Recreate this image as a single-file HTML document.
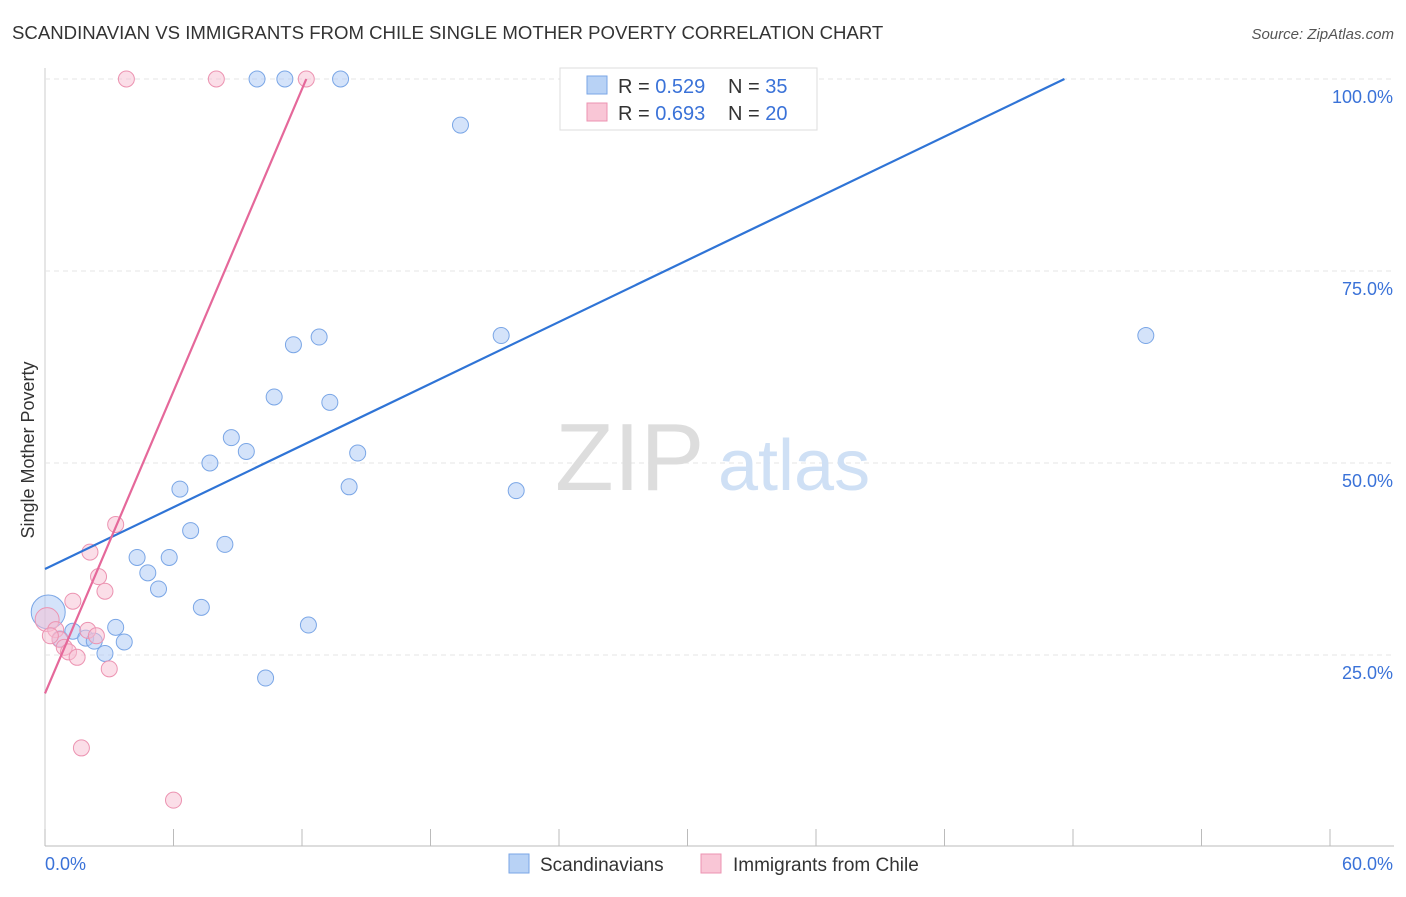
<!DOCTYPE html>
<html><head><meta charset="utf-8"><style>
body{margin:0;background:#fff;font-family:"Liberation Sans",sans-serif;}
svg text{font-family:"Liberation Sans",sans-serif;}
</style></head><body>
<svg id="chart" width="1406" height="892">
<text x="12" y="39" font-size="18.6" fill="#333">SCANDINAVIAN VS IMMIGRANTS FROM CHILE SINGLE MOTHER POVERTY CORRELATION CHART</text>
<text x="1394" y="39" font-size="15" fill="#555" font-style="italic" text-anchor="end">Source: ZipAtlas.com</text>
<text x="40" y="456" font-size="18" fill="#333" transform="rotate(-90 34 456)" text-anchor="middle">Single Mother Poverty</text>
<g id="grid"></g>
<text x="555" y="490" font-size="96" fill="#ddd" font-family="Liberation Serif">ZIP</text>
<text x="718" y="490" font-size="72" fill="#cfe0f5">atlas</text>
<g id="marks"></g>
<g>
<rect x="560" y="68" width="257" height="62" fill="#fff" stroke="#ddd"/>
<rect x="587" y="76" width="20" height="18" fill="#b8d2f5" stroke="#7aa6e6"/>
<rect x="587" y="103" width="20" height="18" fill="#f9c6d6" stroke="#ec93b1"/>
<text x="618" y="93" font-size="20" fill="#333">R = <tspan fill="#3a72d8">0.529</tspan><tspan x="728">N = </tspan><tspan fill="#3a72d8">35</tspan></text>
<text x="618" y="120" font-size="20" fill="#333">R = <tspan fill="#3a72d8">0.693</tspan><tspan x="728">N = </tspan><tspan fill="#3a72d8">20</tspan></text>
</g>
<g>
<rect x="509" y="854" width="20" height="19" fill="#b8d2f5" stroke="#7aa6e6"/>
<text x="540" y="871" font-size="19" fill="#333">Scandinavians</text>
<rect x="701" y="854" width="20" height="19" fill="#f9c6d6" stroke="#ec93b1"/>
<text x="733" y="871" font-size="19" fill="#333">Immigrants from Chile</text>
</g>
</svg>
<script>
const xTicks=[0,6,12,18,24,30,36,42,48,54,60];
const yTicks=[25,50,75,100];
const blueX=[9.9,11.2,13.8,25.8,19.4,11.6,12.8,21.3,51.4,10.7,13.3,8.7,9.4,14.6,7.7,6.3,14.2,22.0,6.8,8.4,4.3,5.8,4.8,5.3,7.3,3.3,1.3,1.9,2.3,3.7,2.8,12.3,10.3,0.15,0.7];
const blueY=[100,100,100,99.6,94,65.4,66.4,66.6,66.6,58.6,57.9,53.3,51.5,51.3,50,46.6,46.9,46.4,41.2,39.4,37.7,37.7,35.7,33.6,31.2,28.6,28.1,27.2,26.8,26.7,25.2,28.9,22.0,30.6,27.1];
const pinkX=[3.8,8.0,12.2,3.3,2.1,2.5,2.8,1.3,2.0,2.4,0.1,0.5,0.7,0.9,1.1,1.5,3.0,1.7,6.0,0.25];
const pinkY=[100,100,100,42,38.4,35.2,33.3,32.0,28.2,27.5,29.6,28.3,27.0,26.0,25.4,24.7,23.2,12.9,6.1,27.5];
const blueLine=[[0,36.2],[47.6,100]];
const pinkLine=[[0,20],[12.2,100]];
const xs=v=>45+v/60*1285, ys=v=>847-v*7.68;
const NS="http://www.w3.org/2000/svg";
const grid=document.getElementById('grid'), marks=document.getElementById('marks');
function mk(p,tag,a){const e=document.createElementNS(NS,tag);for(const k in a)e.setAttribute(k,a[k]);p.appendChild(e);return e;}
let ax=mk(grid,'line',{x1:45,y1:846,x2:1394,y2:846,stroke:'#bbb'});


let ay=mk(grid,'line',{x1:45,y1:68,x2:45,y2:846,stroke:'#ccc'});


xTicks.forEach((t,i)=>{const l=mk(grid,'line',{x1:xs(t),y1:829,x2:xs(t),y2:846,stroke:'#bbb'});

});
yTicks.forEach(t=>{const l=mk(grid,'line',{x1:45,y1:ys(t),x2:1394,y2:ys(t),stroke:'#e4e4e4','stroke-dasharray':'5,4'});


const tx=mk(grid,'text',{x:1393,y:ys(t)+24,'font-size':18,fill:'#3a72d8','text-anchor':'end'});tx.textContent=t.toFixed(1)+'%';

});
[[0,'0.0%',45,'start'],[60,'60.0%',1393,'end']].forEach(d=>{const tx=mk(grid,'text',{x:d[2],y:870,'font-size':18,fill:'#3a72d8','text-anchor':d[3]});tx.textContent=d[1];

});
blueX.forEach((x,i)=>{const c=mk(marks,'circle',{cx:xs(x),cy:ys(blueY[i]),r:i==33?17:8,fill:'rgba(170,200,245,0.5)',stroke:'#7aa6e6','stroke-width':1});

});
pinkX.forEach((x,i)=>{const c=mk(marks,'circle',{cx:xs(x),cy:ys(pinkY[i]),r:i==10?12:8,fill:'rgba(248,190,210,0.5)',stroke:'#ec93b1','stroke-width':1});

});
let bl=mk(marks,'line',{x1:xs(blueLine[0][0]),y1:ys(blueLine[0][1]),x2:xs(blueLine[1][0]),y2:ys(blueLine[1][1]),stroke:'#2f74d6','stroke-width':2.2});


let pl=mk(marks,'line',{x1:xs(pinkLine[0][0]),y1:ys(pinkLine[0][1]),x2:xs(pinkLine[1][0]),y2:ys(pinkLine[1][1]),stroke:'#e5689a','stroke-width':2.2});


</script>
</body></html>
